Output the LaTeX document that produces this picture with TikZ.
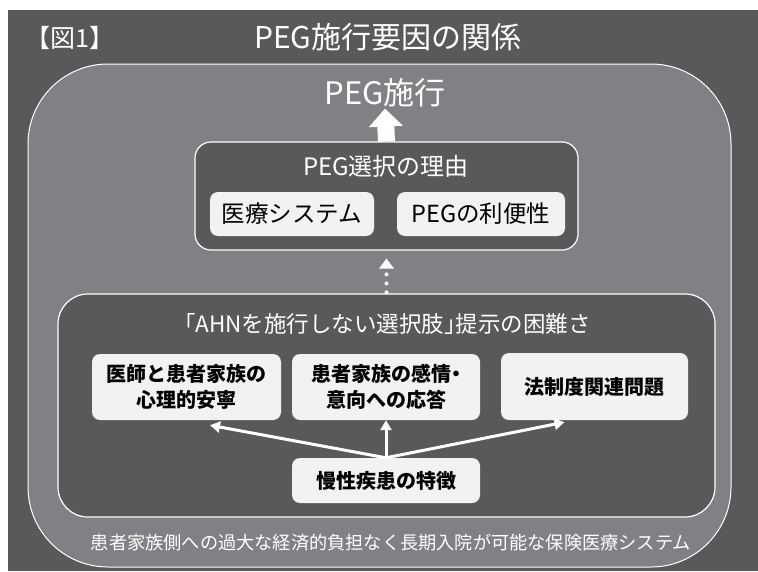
\documentclass[tikz,border=0pt]{standalone}
\usepackage{fontspec}
\setmainfont{Noto Sans CJK JP}
\usetikzlibrary{arrows.meta}
\definecolor{bgdark}{RGB}{88,89,91}
\definecolor{midgray}{RGB}{128,129,132}
\definecolor{boxfill}{RGB}{242,242,242}
\newcommand\halfpunct{\addfontfeatures{CharacterWidth=AlternateHalf}}
\tikzset{
  wtext/.style={text=white, inner sep=0pt},
  container/.style={draw=white, line width=1.2pt, fill=bgdark, inner sep=0pt},
  subbox/.style={fill=boxfill, rounded corners=8pt, inner sep=0pt, align=center},
  factor/.style={subbox, font=\fontsize{20}{26.5}\selectfont\bfseries\halfpunct, text=black},
  link/.style={white, line width=3pt, -{Triangle[width=11pt,length=10pt]}},
}
\begin{document}
\begin{tikzpicture}[x=1pt,y=-1pt]
\useasboundingbox (0,0) rectangle (758,571);
\fill[white] (0,0) rectangle (758,571);
\fill[bgdark] (8,10) rectangle (758,571);
\draw[white, line width=1pt, fill=midgray, rounded corners=80pt] (28,64) rectangle (731,567);

\node[wtext, font=\fontsize{25}{25}\selectfont\halfpunct] (fig) at (70,38) {【図1】};
\node[wtext, font=\fontsize{30}{30}\selectfont] (title) at (388,37) {PEG施行要因の関係};
\node[wtext, font=\fontsize{31}{31}\selectfont] (peg) at (385,93) {PEG施行};

\node[container, rounded corners=16pt, minimum width=383pt, minimum height=108pt] (sel) at (386.5,196) {};
\node[wtext, font=\fontsize{24}{24}\selectfont] (seltitle) at (386,166) {PEG選択の理由};
\node[subbox, font=\fontsize{23.5}{23.5}\selectfont, minimum width=164pt, minimum height=44pt] (med) at (292,214) {医療システム};
\node[subbox, font=\fontsize{23.5}{23.5}\selectfont, minimum width=168pt, minimum height=44pt] (conv) at (481,214) {PEGの利便性};

\node[container, rounded corners=30pt, minimum width=657pt, minimum height=223pt] (low) at (386.5,405.5) {};
\node[wtext, font=\fontsize{22.5}{22.5}\selectfont\halfpunct] (lowtitle) at (387.5,324) {「AHNを施行しない選択肢」提示の困難さ};

\node[factor, minimum width=189pt, minimum height=66pt] (b1) at (186.5,387) {医師と患者家族の\\心理的安寧};
\node[factor, minimum width=188pt, minimum height=66pt] (b2) at (386,387) {患者家族の感情・\\意向への応答};
\node[factor, minimum width=187pt, minimum height=67pt] (b3) at (594.5,386.5) {法制度関連問題};
\node[factor, minimum width=188pt, minimum height=45pt] (b4) at (386,480.5) {慢性疾患の特徴};

\node[wtext, font=\fontsize{18.2}{18.2}\selectfont] (foot) at (391,543) {患者家族側への過大な経済的負担なく長期入院が可能な保険医療システム};

% block arrow up
\draw[white, line width=17pt, -{Triangle[width=33pt,length=18pt]}] (sel.north) -- ([yshift=-1pt]peg.south);
% dotted arrow
\draw[white, line width=4pt, line cap=round, dash pattern=on 0pt off 9pt, shorten >=20pt] ([yshift=1pt]low.north) -- (sel.south);
\fill[white] ([yshift=-8pt]sel.south) -- ++(-7.5pt,-10pt) -- ++(15pt,0pt) -- cycle;

% arrows from chronic disease
\draw[link] (b4.north) -- ([xshift=23.5pt,yshift=-5pt]b1.south);
\draw[link] (b4.north) -- (b2.south);
\draw[link] (b4.north) -- ([xshift=-30pt,yshift=-2pt]b3.south);
\end{tikzpicture}
\end{document}
